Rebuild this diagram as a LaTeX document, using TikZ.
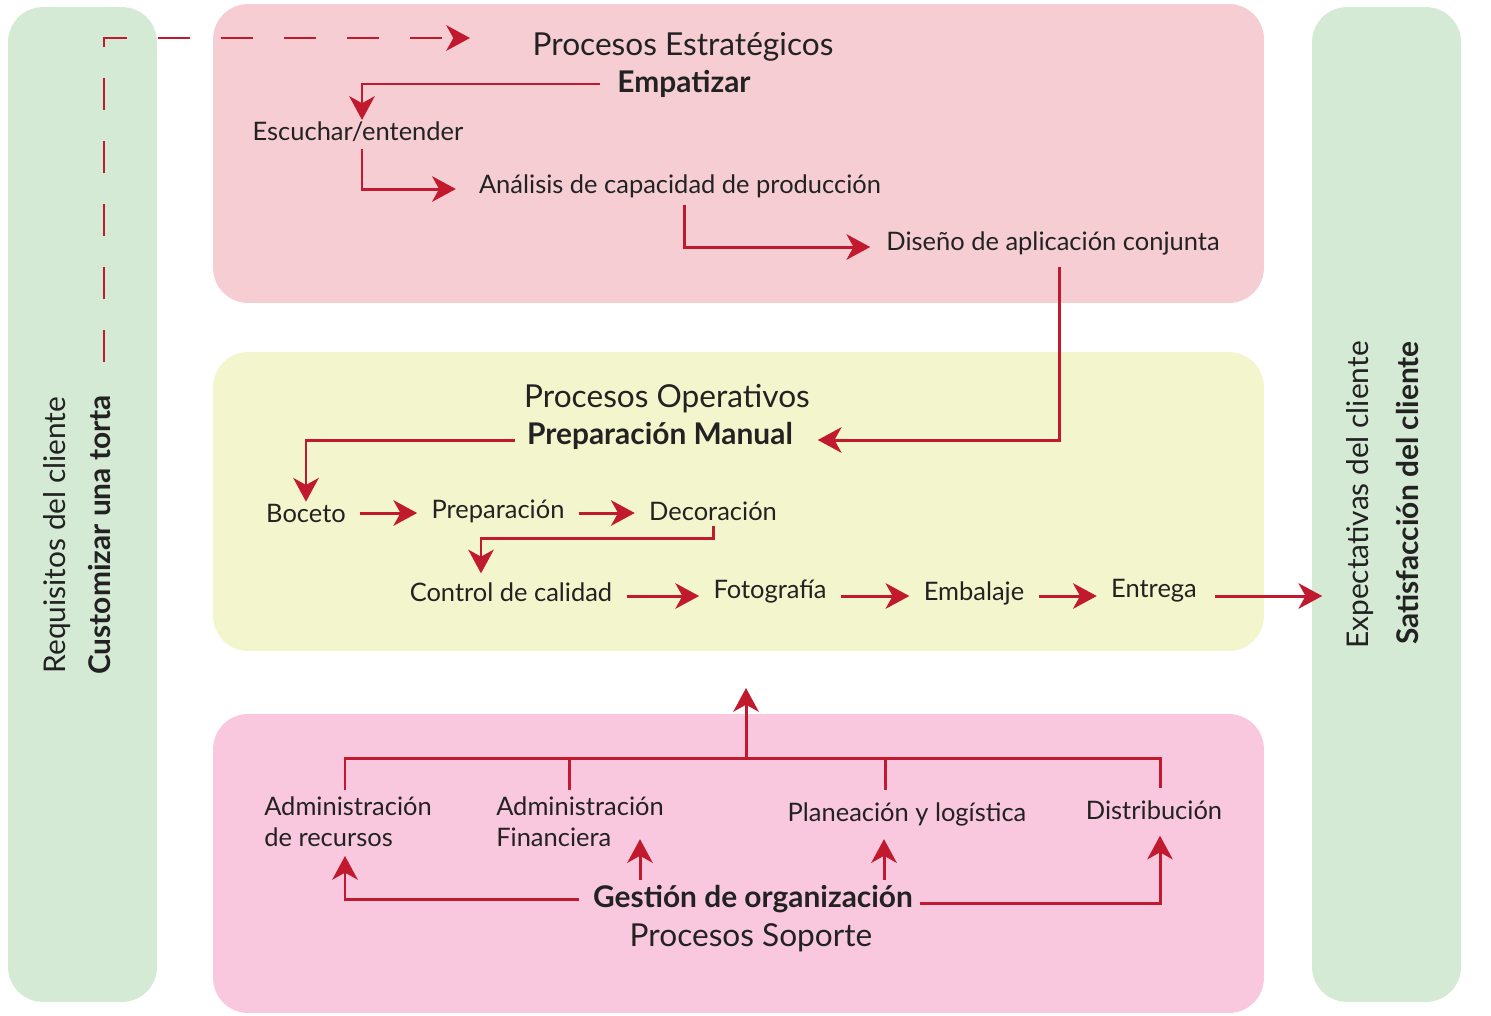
\documentclass[tikz,border=0pt]{standalone}
\usepackage{fontspec}
\setmainfont{Lato}
\usetikzlibrary{arrows.meta,calc}
\definecolor{sidegreen}{HTML}{D5EAD5}
\definecolor{stratpink}{HTML}{F5CDD3}
\definecolor{opyellow}{HTML}{F3F5CC}
\definecolor{suppink}{HTML}{F9C8DE}
\definecolor{linkred}{HTML}{C1192D}
\definecolor{ink}{HTML}{222222}
\begin{document}
\begin{tikzpicture}[x=0.02cm,y=-0.02cm,
  panel/.style={rounded corners=0.7cm, inner sep=0pt, minimum width=21.02cm, minimum height=5.98cm},
  side/.style={panel, fill=sidegreen, minimum width=2.98cm, minimum height=19.9cm},
  link/.style={draw=linkred, line width=1.7pt},
  arr/.style={link, -{Stealth[length=13.5pt,width=14.5pt,inset=4pt]}},
  hflow/.style={arr, shorten <=7pt, shorten >=7pt},
  lbl/.style={text=ink, font=\fontsize{14.5pt}{17.5pt}\selectfont, inner sep=1pt},
  sidelbl/.style={text=ink, font=\fontsize{17pt}{20pt}\selectfont, inner sep=1pt},
  head/.style={text=ink, font=\fontsize{18pt}{21pt}\selectfont, inner sep=1pt},
  key/.style={text=ink, font=\bfseries\fontsize{17pt}{20pt}\selectfont, inner sep=1pt},
]
\useasboundingbox (0,0) rectangle (1491,1015);

% background panels
\node[side] (lp) at (82.5,504.5) {};
\node[side] (rp) at (1386.5,504.5) {};
\node[panel, fill=stratpink] (strat) at (738.5,153.5) {};
\node[panel, fill=opyellow] (oper) at (738.5,501.5) {};
\node[panel, fill=suppink] (supp) at (738.5,863.5) {};

% side labels
\node[sidelbl, rotate=90] (req) at (57,535) {Requisitos del cliente};
\node[key, rotate=90] (cus) at (100,535) {Customizar una torta};
\node[sidelbl, rotate=90] (exp) at (1360,495) {Expectativas del cliente};
\node[key, rotate=90] (sat) at (1407,493) {Satisfacción del cliente};

% strategic processes
\node[head] (pe) at (683,47) {Procesos Estratégicos};
\node[key] (emp) at (684,84) {Empatizar};
\node[lbl] (esc) at (358,132) {Escuchar/entender};
\node[lbl] (ana) at (680,186) {Análisis de capacidad de producción};
\node[lbl] (dis) at (1053,243) {Diseño de aplicación conjunta};

% operative processes
\node[head] (po) at (667,399) {Procesos Operativos};
\node[key] (pm) at (660,436) {Preparación Manual};
\node[lbl] (boc) at (306,513) {Boceto};
\node[lbl] (pre) at (498,511) {Preparación};
\node[lbl] (dec) at (713,511) {Decoración};
\node[lbl] (cc) at (511,592) {Control de calidad};
\node[lbl] (fot) at (770,591) {Fotografía};
\node[lbl] (emb) at (974,593) {Embalaje};
\node[lbl] (ent) at (1154,591) {Entrega};

% support processes
\node[lbl, align=left, anchor=north] (ar) at (348,795) {Administración\\de recursos};
\node[lbl, align=left, anchor=north] (af) at (580,795) {Administración\\Financiera};
\node[lbl] (pl) at (907,814) {Planeación y logística};
\node[lbl] (di) at (1154,810) {Distribución};
\node[key] (go) at (753,899) {Gestión de organización};
\node[head] (ps) at (751,938) {Procesos Soporte};

% requirements feed into strategy
\coordinate (dstart) at (104,362);
\coordinate (dend) at (470,38);
\draw[arr, dash pattern=on 0.64cm off 0.62cm] (dstart) |- (dend);

% strategic flow
\draw[arr, shorten <=9pt] (emp.west) -| ($(esc.north)+(4,0)$);
\draw[arr, shorten >=12pt, shorten <=3pt] ($(esc.south)+(4,0)$) |- ($(ana.west)+(0,3)$);
\draw[arr, shorten >=8pt, shorten <=3pt] ($(ana.south)+(4,0)$) |- ($(dis.west)+(0,4)$);
\draw[arr, shorten <=6pt, shorten >=13pt] ($(dis.south)+(6,0)$) |- ($(pm.east)+(0,4)$);

% operative flow
\draw[arr, shorten <=6pt] ($(pm.west)+(0,4)$) -| (boc.north);
\draw[hflow] (boc.east) -- (boc.east -| pre.west);
\draw[hflow] (pre.east |- boc.east) -- (boc.east -| dec.west);
\draw[arr, shorten <=2pt, shorten >=4pt] (dec.south) -- ++(0,16) -| ($(cc.north)+(-30,0)$);
\draw[hflow] ($(cc.east)+(0,4)$) -- ($(cc.east -| fot.west)+(0,4)$);
\draw[hflow] ($(fot.east)+(0,5)$) -- ($(fot.east -| emb.west)+(0,5)$);
\draw[hflow] ($(emb.east)+(0,3)$) -- ($(emb.east -| ent.west)+(0,3)$);
\draw[arr, shorten <=9pt, shorten >=-6pt] ($(ent.east)+(0,5)$) -- ($(ent.east -| rp.west)+(0,5)$);

% support bus up into operations
\coordinate (bus) at (746,758);
\coordinate (up) at (746,688);
\draw[link, shorten <=3pt] ($(ar.north)+(-3,0)$) |- (bus);
\draw[link, shorten <=3pt] ($(af.north)+(-11,0)$) |- (bus);
\draw[link, shorten <=6pt] ($(pl.north)+(-22,0)$) |- (bus);
\draw[link, shorten <=6pt] ($(di.north)+(6,0)$) |- (bus);
\draw[arr] (bus) -- (up);

% management feeds the support areas
\draw[arr, shorten <=7pt, shorten >=4pt] (go.west) -| ($(ar.south)+(-3,0)$);
\draw[arr, shorten <=2pt] ($(go.north)+(-113,0)$) -- ++(0,-44);
\draw[arr, shorten <=2pt] ($(go.north)+(131,0)$) -- ++(0,-44);
\draw[arr, shorten <=3pt, shorten >=8pt] ($(go.east)+(0,4)$) -| ($(di.south)+(6,0)$);
\end{tikzpicture}
\end{document}
